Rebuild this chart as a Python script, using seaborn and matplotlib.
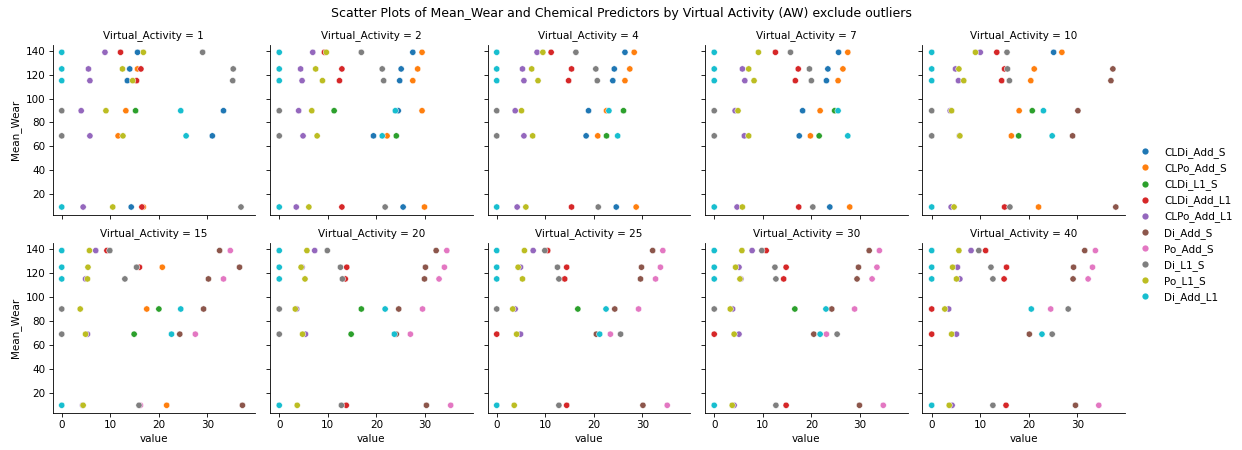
import numpy as np
import pandas as pd
import seaborn as sns
import matplotlib.pyplot as plt

N = np.nan

activity_levels = [1, 2, 4, 7, 10, 15, 20, 25, 30, 40]
wear_levels = [9.4, 68.8, 89.8, 114.9, 124.7, 138.6]

predictors = ["CLDi_Add_S", "CLPo_Add_S", "CLDi_L1_S", "CLDi_Add_L1", "CLPo_Add_L1",
              "Di_Add_S", "Po_Add_S", "Di_L1_S", "Po_L1_S", "Di_Add_L1"]

# one row per activity level, one column per wear level
CLDi_Add_S = [
    [14.3, 31.0, 33.3, 13.5, 14.0, 15.6],
    [25.5, 19.4, 24.5, 24.8, 25.1, 27.5],
    [24.6, 18.4, 18.9, 23.9, 24.2, 26.4],
    [23.8, 17.5, 18.2, 23.1, 23.4, 25.6],
    [N, N, N, N, N, 25.1],
    [N, N, N, N, N, N],
    [N, N, N, N, N, N],
    [N, N, N, N, N, N],
    [N, N, N, N, N, N],
    [N, N, N, N, N, N],
]
CLPo_Add_S = [
    [16.8, 11.6, 13.2, N, 15.6, N],
    [29.9, 22.2, 29.4, 27.5, 28.5, 29.4],
    [28.7, 20.8, 22.6, 26.4, 27.4, 28.3],
    [27.9, 19.8, 21.8, 25.5, 26.5, 27.5],
    [22.0, 16.4, 18.0, 20.4, 21.1, 26.8],
    [21.6, N, 17.5, N, 20.7, N],
    [N, N, N, N, N, N],
    [N, N, N, N, N, N],
    [N, N, N, N, N, N],
    [N, N, N, N, N, N],
]
CLDi_L1_S = [
    [N, N, 15.2, N, N, N],
    [N, 24.1, 11.3, N, N, N],
    [N, 22.6, 26.1, N, N, N],
    [N, 21.6, 24.8, N, N, N],
    [N, 17.9, 20.7, N, N, N],
    [N, 14.9, 20.0, N, N, N],
    [N, 14.8, 16.9, N, N, N],
    [N, N, 16.7, N, N, N],
    [N, N, 16.6, N, N, N],
    [N, N, N, N, N, N],
]
CLDi_Add_L1 = [
    [16.5, N, N, 15.4, 16.3, 12.1],
    [12.9, N, N, 12.4, 12.9, 9.3],
    [15.4, N, N, 14.8, 15.4, 11.2],
    [17.4, N, N, 16.7, 17.3, 12.6],
    [15.0, N, N, 14.4, 15.0, 13.4],
    [N, N, N, N, 16.0, 9.3],
    [13.8, N, N, 13.6, 13.9, N],
    [14.4, 0.0, N, 14.0, 14.4, 10.5],
    [14.8, 0.0, N, 14.3, 14.8, 10.7],
    [15.3, 0.0, 0.0, 14.9, 15.4, 11.1],
]
CLPo_Add_L1 = [
    [4.4, 5.8, 4.0, 5.8, 5.5, 8.9],
    [3.5, 4.9, 4.0, 4.7, 4.4, 6.9],
    [4.2, 5.6, 3.8, 5.6, 5.3, 8.3],
    [4.7, 6.2, 4.3, 6.3, 5.8, N],
    [4.0, 5.7, 3.8, 5.5, 4.9, 10.0],
    [4.3, 5.3, N, 4.9, N, 7.0],
    [N, 5.4, 3.6, N, 4.7, 7.3],
    [N, 4.9, 3.8, N, 4.9, 7.5],
    [4.1, 5.1, 3.8, 5.5, 5.1, 7.8],
    [4.2, 5.1, 3.5, 5.8, 5.3, 8.1],
]
Di_Add_S = [
    [N, N, N, N, N, N],
    [N, N, N, N, N, N],
    [N, N, N, N, N, N],
    [N, N, N, N, N, N],
    [37.9, 29.0, 30.1, 36.9, 37.3, N],
    [37.2, 24.3, 29.2, 30.2, 36.6, 32.5],
    [30.3, 24.1, 24.6, 29.9, 30.1, 32.3],
    [30.1, 20.5, 24.3, 29.6, 29.8, 32.1],
    [29.9, 20.5, 24.2, 29.4, 29.7, 31.9],
    [29.6, 20.1, N, 29.1, 29.2, 31.5],
]
Po_Add_S = [
    [N, N, N, N, N, N],
    [N, N, N, N, N, N],
    [N, N, N, N, N, N],
    [N, N, N, N, N, N],
    [N, N, N, N, N, N],
    [16.2, 27.5, N, 33.3, N, 34.7],
    [35.3, 27.0, 29.5, 32.9, 34.0, 34.5],
    [35.1, 23.4, 29.2, 32.7, 33.7, 34.2],
    [34.8, 23.1, 28.9, 32.5, 33.5, 34.0],
    [34.4, N, 24.5, 32.2, 33.1, 33.7],
]
Di_L1_S = [
    [36.9, 0.0, 0.0, 35.2, 35.3, 29.0],
    [21.8, 0.0, 0.0, 21.5, 21.2, 16.9],
    [20.9, 0.0, 0.0, 20.7, 20.4, 16.3],
    [20.3, 0.0, 0.0, 20.0, 19.6, 15.7],
    [16.1, 0.0, 0.0, 16.0, 15.6, 15.5],
    [15.9, 0.0, 0.0, 13.0, 15.4, 9.9],
    [12.8, 0.0, 0.0, 13.0, 12.6, 9.9],
    [12.8, 25.5, 0.0, 12.8, 12.5, 9.9],
    [12.7, 25.3, 0.0, 12.7, 12.5, 9.8],
    [12.6, 24.8, 28.1, 12.6, 12.2, 9.7],
]
Po_L1_S = [
    [10.5, 12.6, 9.1, 14.6, 12.5, 16.8],
    [6.1, 7.8, 6.7, 8.9, 7.5, 9.7],
    [6.0, 7.4, 5.1, 8.5, 7.2, 9.5],
    [5.8, 7.1, 4.9, 8.2, 7.1, 9.1],
    [4.6, 5.8, 4.1, 6.6, 5.6, 9.0],
    [4.4, 4.9, 3.8, 5.3, 5.4, 5.7],
    [3.7, 4.8, 3.3, 5.3, 4.5, 5.7],
    [3.6, 4.1, 3.3, 5.3, 4.4, 5.7],
    [3.7, 4.1, 3.3, 5.3, 4.4, 5.7],
    [3.6, 4.1, 2.7, 5.1, 4.3, 5.6],
]
Di_Add_L1 = [
    [0.0, 25.6, 24.5, 0.0, 0.0, 0.0],
    [0.0, 21.2, 23.9, 0.0, 0.0, 0.0],
    [0.0, 24.9, 23.1, 0.0, 0.0, 0.0],
    [0.0, 27.5, 25.5, 0.0, 0.0, 0.0],
    [0.0, 24.8, 23.0, 0.0, 0.0, 0.0],
    [0.0, 22.6, 24.5, 0.0, 0.0, 0.0],
    [0.0, 23.7, 21.8, 0.0, 0.0, 0.0],
    [0.0, 21.2, 22.5, 0.0, 0.0, 0.0],
    [0.0, 21.8, 23.0, 0.0, 0.0, 0.0],
    [0.0, 22.7, 20.5, 0.0, 0.0, 0.0],
]

series = {
    "CLDi_Add_S": CLDi_Add_S, "CLPo_Add_S": CLPo_Add_S, "CLDi_L1_S": CLDi_L1_S,
    "CLDi_Add_L1": CLDi_Add_L1, "CLPo_Add_L1": CLPo_Add_L1, "Di_Add_S": Di_Add_S,
    "Po_Add_S": Po_Add_S, "Di_L1_S": Di_L1_S, "Po_L1_S": Po_L1_S, "Di_Add_L1": Di_Add_L1,
}

# long format: one block per predictor, as produced by a melt
records = []
for name in predictors:
    for i, act in enumerate(activity_levels):
        for j, wear in enumerate(wear_levels):
            records.append({"Virtual_Activity": act, "Mean_Wear": wear,
                            "variable": name, "value": series[name][i][j]})
long_df = pd.DataFrame(records)

DPI = 75

g = sns.relplot(data=long_df, x="value", y="Mean_Wear", hue="variable",
                hue_order=predictors, col="Virtual_Activity", col_wrap=5,
                kind="scatter", height=2.8, aspect=1.2)
g.legend.set_title("")

fig = g.figure
fig.set_size_inches(1242 / DPI, 450 / DPI)
fig.subplots_adjust(left=0.0423, right=0.9058, bottom=0.0822, top=0.901,
                    wspace=0.074, hspace=0.165)
fig.suptitle("Scatter Plots of Mean_Wear and Chemical Predictors by Virtual Activity (AW) exclude outliers",
             y=0.985, fontsize=12)
fig.savefig("out.png", dpi=DPI)
